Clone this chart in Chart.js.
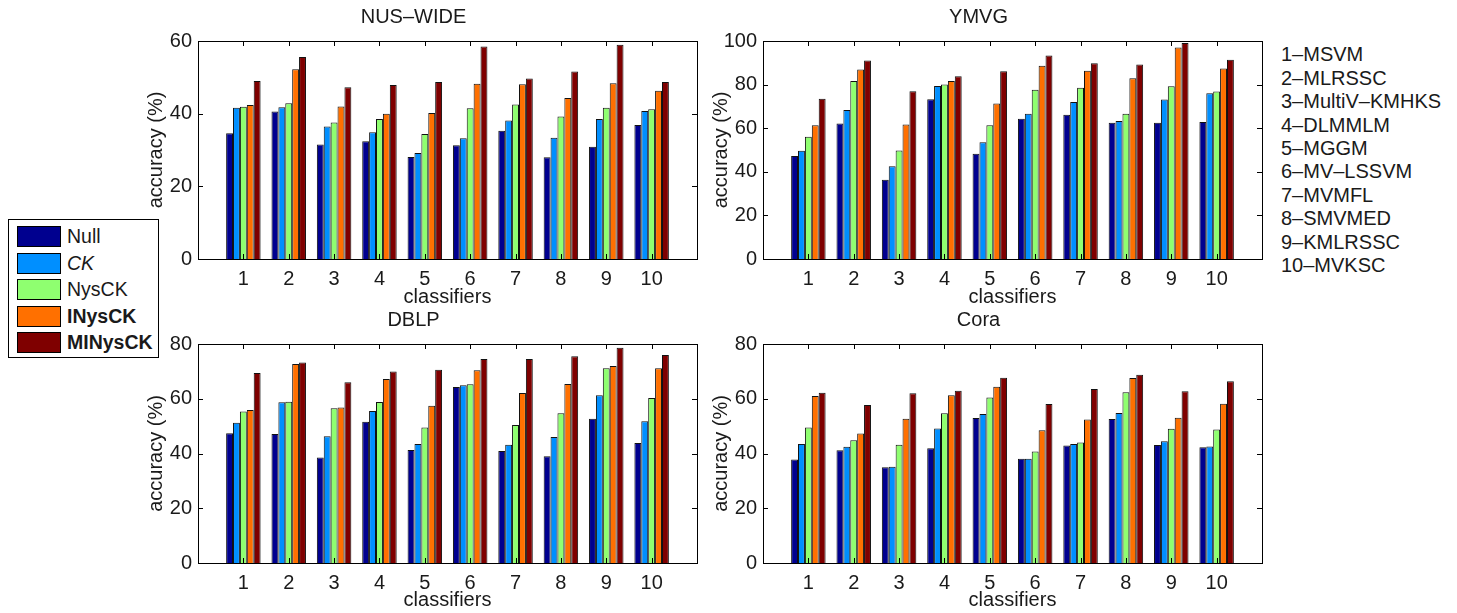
<!DOCTYPE html>
<html>
<head>
<meta charset="utf-8">
<script src="https://cdn.jsdelivr.net/npm/chart.js@4.4.1/dist/chart.umd.min.js"></script>
<style>
  body { margin: 0; background: #fff; width: 1457px; height: 613px; position: relative; overflow: hidden;
         font-family: "Liberation Sans", Arial, Helvetica, sans-serif; color: #1a1a1a; }
  canvas { position: absolute; }
  #legend { position: absolute; left: 8px; top: 219px; width: 149px; height: 137px; border: 1px solid #000; background: #fff; }
  .row { position: absolute; left: 8px; height: 21px; font-size: 19.5px; line-height: 21px; white-space: nowrap; }
  .sw { display: inline-block; width: 42px; height: 19px; border: 1px solid #000; vertical-align: top; margin-right: 6px; }
  #methods { position: absolute; left: 1281px; top: 43.3px; font-size: 20px; line-height: 23.4px; white-space: nowrap; }
</style>
</head>
<body>
<canvas id="nus" width="580" height="310" style="left:130px; top:0px"></canvas>
<canvas id="ymvg" width="580" height="310" style="left:695px; top:0px"></canvas>
<canvas id="dblp" width="580" height="310" style="left:130px; top:303px"></canvas>
<canvas id="cora" width="580" height="310" style="left:695px; top:303px"></canvas>
<div id="legend"></div>
<div id="methods"></div>

<script>
// x tick labels (classifier index) and what each index means
const classifiers = ['1', '2', '3', '4', '5', '6', '7', '8', '9', '10'];
const methodNames = ['MSVM', 'MLRSSC', 'MultiV–KMHKS', 'DLMMLM', 'MGGM', 'MV–LSSVM', 'MVMFL', 'SMVMED', 'KMLRSSC', 'MVKSC'];

// the five kernels compared in every panel
const seriesNames = ['Null', 'CK', 'NysCK', 'INysCK', 'MINysCK'];
const seriesColors = ['#00008f', '#008fff', '#8fff70', '#ff7000', '#7f0000'];

// NUS-WIDE accuracy (%)
const nusNull    = [34.6, 40.6, 31.5, 32.4, 28.1, 31.3, 35.3, 28.0, 30.9, 36.9];
const nusCK      = [41.6, 41.8, 36.5, 34.9, 29.2, 33.2, 38.1, 33.4, 38.5, 40.7];
const nusNysCK   = [41.9, 42.9, 37.6, 38.5, 34.4, 41.5, 42.5, 39.2, 41.6, 41.2];
const nusINysCK  = [42.4, 52.2, 42.0, 40.0, 40.2, 48.2, 48.1, 44.3, 48.4, 46.3];
const nusMINysCK = [49.0, 55.6, 47.3, 47.9, 48.7, 58.5, 49.7, 51.6, 59.0, 48.7];

// YMVG accuracy (%)
const ymvgNull    = [47.3, 62.2, 36.4, 73.3, 48.3, 64.3, 66.2, 62.5, 62.5, 62.8];
const ymvgCK      = [49.7, 68.3, 42.5, 79.4, 53.5, 66.6, 72.0, 63.3, 73.2, 76.0];
const ymvgNysCK   = [56.1, 81.7, 49.8, 80.0, 61.3, 77.6, 78.5, 66.6, 79.3, 76.8];
const ymvgINysCK  = [61.3, 86.9, 61.7, 81.6, 71.3, 88.6, 86.4, 82.9, 97.0, 87.4];
const ymvgMINysCK = [73.5, 91.0, 77.0, 83.8, 86.1, 93.4, 89.8, 89.2, 99.1, 91.4];

// DBLP accuracy (%)
const dblpNull    = [47.4, 47.1, 38.5, 51.6, 41.3, 64.3, 40.9, 39.0, 52.7, 43.8];
const dblpCK      = [51.2, 58.7, 46.3, 55.5, 43.5, 64.9, 43.2, 46.0, 61.3, 51.8];
const dblpNysCK   = [55.3, 58.9, 56.5, 58.8, 49.5, 65.3, 50.4, 54.7, 71.1, 60.3];
const dblpINysCK  = [55.9, 72.7, 56.8, 67.2, 57.4, 70.4, 62.1, 65.4, 72.0, 71.1];
const dblpMINysCK = [69.4, 73.2, 66.0, 70.0, 70.6, 74.5, 74.5, 75.5, 78.6, 76.0];

// Cora accuracy (%)
const coraNull    = [37.8, 41.2, 35.0, 41.9, 53.0, 38.1, 42.9, 52.6, 43.1, 42.3];
const coraCK      = [43.5, 42.5, 35.2, 49.1, 54.4, 38.1, 43.5, 54.8, 44.5, 42.6];
const coraNysCK   = [49.5, 44.8, 43.2, 54.7, 60.5, 40.7, 44.0, 62.4, 49.0, 48.8];
const coraINysCK  = [61.0, 47.3, 52.7, 61.3, 64.4, 48.5, 52.4, 67.6, 53.1, 58.2];
const coraMINysCK = [62.2, 57.7, 62.0, 62.9, 67.7, 58.1, 63.6, 68.8, 62.7, 66.4];

Chart.defaults.font.family = '"Liberation Sans", Arial, Helvetica, sans-serif';
Chart.defaults.font.size = 20;
Chart.defaults.color = '#1a1a1a';

// matlab style: boxed axes with ticks pointing inwards on all four sides
const matlabBox = {
  id: 'matlabBox',
  afterDatasetsDraw(chart) {
    const { ctx, chartArea: a, scales: { x, y } } = chart;
    const len = 5;
    ctx.save();
    ctx.strokeStyle = '#000';
    ctx.lineWidth = 1;
    ctx.beginPath();
    y.ticks.forEach((t) => {
      const py = Math.round(y.getPixelForValue(t.value)) + 0.5;
      ctx.moveTo(a.left, py); ctx.lineTo(a.left + len, py);
      ctx.moveTo(a.right, py); ctx.lineTo(a.right - len, py);
    });
    classifiers.forEach((c, i) => {
      const px = Math.round(x.getPixelForValue(i + 1)) + 0.5;
      ctx.moveTo(px, a.bottom); ctx.lineTo(px, a.bottom - len);
      ctx.moveTo(px, a.top); ctx.lineTo(px, a.top + len);
    });
    ctx.stroke();
    ctx.strokeRect(Math.round(a.left) + 0.5, Math.round(a.top) + 0.5,
                   Math.round(a.right - a.left), Math.round(a.bottom - a.top));
    ctx.restore();
  }
};

function makePanel(id, title, yMax, series, xAxisHeight) {
  new Chart(document.getElementById(id), {
    type: 'bar',
    data: {
      datasets: series.map((values, k) => ({
        label: seriesNames[k],
        data: values.map((v, i) => ({ x: i + 1, y: v })),
        backgroundColor: seriesColors[k],
        borderColor: '#111',
        borderWidth: 1,
        barPercentage: 1.0,
        categoryPercentage: 0.76,
      })),
    },
    options: {
      responsive: false,
      animation: false,
      layout: { padding: { left: 0, right: 13, top: 0, bottom: 0 } },
      plugins: {
        legend: { display: false },
        tooltip: { enabled: false },
        title: {
          display: true,
          text: title,
          font: { size: 20, weight: 'normal' },
          color: '#1a1a1a',
          padding: { top: 5.5, bottom: 11.5 },
        },
      },
      scales: {
        x: {
          type: 'linear',
          min: 0,
          max: 11,
          offset: false,
          grid: { display: false, drawTicks: false },
          border: { display: false },
          ticks: {
            stepSize: 1,
            autoSkip: false,
            maxRotation: 0,
            padding: 8,
            callback: (v) => (v >= 1 && v <= 10 ? classifiers[v - 1] : ''),
          },
          title: { display: true, text: 'classifiers', padding: { top: 0, bottom: 1 } },
          afterFit: (scale) => { scale.height = xAxisHeight; },
        },
        y: {
          min: 0,
          max: yMax,
          grid: { display: false, drawTicks: false },
          border: { display: false },
          ticks: { stepSize: 20, padding: 6 },
          title: { display: true, text: 'accuracy (%)', padding: { top: 14, bottom: 0 } },
          afterFit: (scale) => { scale.width = 68; },
        },
      },
    },
    plugins: [matlabBox],
  });
}

makePanel('nus', 'NUS–WIDE', 60, [nusNull, nusCK, nusNysCK, nusINysCK, nusMINysCK], 51);
makePanel('ymvg', 'YMVG', 100, [ymvgNull, ymvgCK, ymvgNysCK, ymvgINysCK, ymvgMINysCK], 51);
makePanel('dblp', 'DBLP', 80, [dblpNull, dblpCK, dblpNysCK, dblpINysCK, dblpMINysCK], 50);
makePanel('cora', 'Cora', 80, [coraNull, coraCK, coraNysCK, coraINysCK, coraMINysCK], 50);

// shared legend on the left
const legendStyle = ['', 'font-style:italic', '', 'font-weight:bold', 'font-weight:bold'];
const legend = document.getElementById('legend');
seriesNames.forEach((name, k) => {
  const row = document.createElement('div');
  row.className = 'row';
  row.style.top = (6 + k * 26.5) + 'px';
  row.innerHTML = '<span class="sw" style="background:' + seriesColors[k] + '"></span>' +
                  '<span style="' + legendStyle[k] + '">' + name + '</span>';
  legend.appendChild(row);
});

// key of classifier numbers on the right
document.getElementById('methods').innerHTML =
  methodNames.map((m, i) => classifiers[i] + '–' + m).join('<br>');
</script>
</body>
</html>
